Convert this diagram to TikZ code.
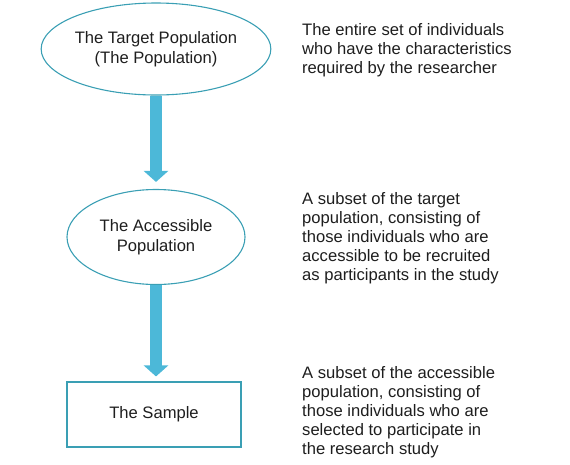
\documentclass[tikz,border=0pt]{standalone}
\usepackage{fontspec}
\setmainfont{Liberation Sans}
\usetikzlibrary{shapes.geometric,arrows.meta}
\definecolor{edgeteal}{HTML}{3A9FB4}
\definecolor{arrowblue}{HTML}{4CB8D8}
\definecolor{txt}{HTML}{1E1E1E}
\tikzset{
  ell/.style={ellipse, draw=edgeteal, line width=1.1pt, inner sep=0pt, align=center, text=txt,
    font=\fontsize{16.6}{20}\selectfont},
  boxnode/.style={rectangle, draw=edgeteal, line width=1.1pt, inner sep=0pt, align=center, text=txt,
    font=\fontsize{16.6}{20}\selectfont},
  desc/.style={anchor=west, align=left, inner sep=0pt, text=txt,
    font=\fontsize{16.6}{19}\selectfont},
  flow/.style={draw=arrowblue, line width=12pt, -{Triangle[width=24pt,length=11pt]}}
}
\begin{document}
\begin{tikzpicture}[x=1pt,y=-1pt]
\useasboundingbox (0,0) rectangle (570,464);
\node[ell, minimum width=215pt, minimum height=92pt] (target) at (156,49) {The Target Population\\(The Population)};
\node[ell, minimum width=178pt, minimum height=95pt] (access) at (156,237) {The Accessible\\Population};
\node[boxnode, minimum width=174pt, minimum height=65pt] (sample) at (154,414.5) {The Sample};
\draw[flow, shorten >=7pt] (target.south) -- (access.north);
\draw[flow, shorten >=5pt] (access.south) -- (sample.north -| access.south);
\node[desc] (d1) at (302,50) {The entire set of individuals\\who have the characteristics\\required by the researcher};
\node[desc] (d2) at (302,238) {A subset of the target\\population, consisting of\\those individuals who are\\accessible to be recruited\\as participants in the study};
\node[desc] (d3) at (302,412) {A subset of the accessible\\population, consisting of\\those individuals who are\\selected to participate in\\the research study};
\end{tikzpicture}
\end{document}
